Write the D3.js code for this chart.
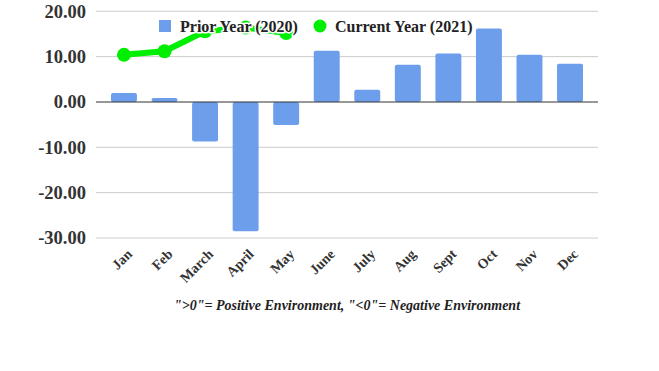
<!DOCTYPE html>
<html><head><meta charset="utf-8">
<script src="https://cdn.jsdelivr.net/npm/d3@7"></script>
<style>body{margin:0;background:#fff}svg{display:block}</style>
</head><body>
<svg id="c" width="659" height="371"></svg>
<script>
const months = ["Jan","Feb","March","April","May","June","July","Aug","Sept","Oct","Nov","Dec"];
const priorYear = [2.0,0.9,-8.7,-28.5,-5.1,11.3,2.7,8.2,10.7,16.2,10.4,8.45];
const currentYear = [10.4,11.2,15.6,16.4,15.2,null,null,null,null,null,null,null];
const yTicks = [20,10,0,-10,-20,-30];
const seriesNames = ["Prior Year (2020)","Current Year (2021)"];
const footnote = "\">0\"= Positive Environment, \"<0\"= Negative Environment";

const svg = d3.select("#c");
const serif = "'Liberation Serif','Times New Roman',serif";
const gridX0 = 96, gridX1 = 598;
const x = d3.scaleBand().domain(months).range([103.7,590.3]).paddingInner(0.36).paddingOuter(0.18);
const y = d3.scaleLinear().domain([-30,20]).range([238,11.3]);
const fmt = d => d3.format(".2f")(d).replace("\u2212","-");

// gridlines
svg.append("g").selectAll("line").data(yTicks.filter(d=>d!==0)).join("line")
  .attr("x1",gridX0).attr("x2",gridX1).attr("y1",d=>y(d)).attr("y2",d=>y(d))
  .attr("stroke","#cccccc").attr("stroke-width",1);

// y axis labels
const yAxis = d3.axisLeft(y).tickValues(yTicks).tickFormat(fmt).tickSize(0).tickPadding(10);
const ya = svg.append("g").attr("transform",`translate(${gridX0},0)`).call(yAxis);
ya.select(".domain").remove();
ya.selectAll("text").attr("font-family",serif).attr("font-weight","bold").attr("font-size",18.5).attr("fill","#333");

// bars
svg.append("g").selectAll("rect").data(priorYear).join("rect")
  .attr("x",(d,i)=>x(months[i])).attr("width",x.bandwidth())
  .attr("y",d=>y(Math.max(0,d))).attr("height",d=>Math.abs(y(d)-y(0)))
  .attr("rx",2).attr("fill","#6d9eeb");

// zero line
svg.append("line").attr("x1",gridX0).attr("x2",gridX1).attr("y1",y(0)).attr("y2",y(0))
  .attr("stroke","#333").attr("stroke-width",1.2);

// line series
const pts = currentYear.map((v,i)=>({v,m:months[i]})).filter(d=>d.v!==null);
const line = d3.line().x(d=>x(d.m)+x.bandwidth()/2).y(d=>y(d.v));
svg.append("path").datum(pts).attr("d",line).attr("fill","none").attr("stroke","#00ee00").attr("stroke-width",6).attr("stroke-linejoin","round");
svg.append("g").selectAll("circle").data(pts).join("circle")
  .attr("cx",d=>x(d.m)+x.bandwidth()/2).attr("cy",d=>y(d.v)).attr("r",7).attr("fill","#00ee00");

// x labels
const xAxis = d3.axisBottom(x).tickSize(0).tickPadding(0);
const xa = svg.append("g").attr("transform",`translate(0,${y(-30)})`).call(xAxis);
xa.select(".domain").remove();
xa.selectAll("text").attr("font-family",serif).attr("font-weight","bold").attr("font-size",14).attr("fill","#333")
  .attr("text-anchor","end").attr("dy",null).attr("y",0)
  .attr("transform","translate(9,17) rotate(-45)");

// legend
const lg = svg.append("g");
lg.append("rect").attr("x",159).attr("y",20).attr("width",12).attr("height",12).attr("fill","#6d9eeb");
lg.append("circle").attr("cx",320).attr("cy",26).attr("r",6.5).attr("fill","#00ee00");
lg.selectAll("text").data(seriesNames).join("text")
  .attr("x",(d,i)=>i===0?180:335).attr("y",31.5)
  .attr("font-family",serif).attr("font-weight","bold").attr("font-size",16).attr("fill","#222")
  .attr("stroke","#fff").attr("stroke-width",3).attr("paint-order","stroke").attr("stroke-linejoin","round")
  .text(d=>d);

// footnote
svg.append("text").attr("x",347).attr("y",310).attr("text-anchor","middle")
  .attr("font-family",serif).attr("font-style","italic").attr("font-weight","bold").attr("font-size",14).attr("fill","#222")
  .text(footnote);
</script>
</body></html>
